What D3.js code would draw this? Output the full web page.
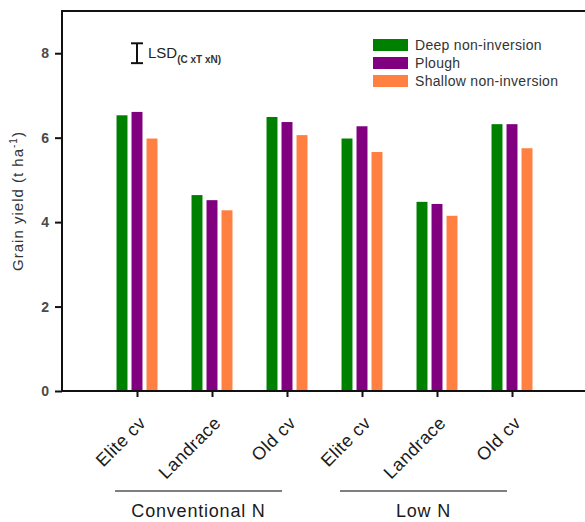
<!DOCTYPE html>
<html>
<head>
<meta charset="utf-8">
<script src="https://cdn.jsdelivr.net/npm/d3@7"></script>
<style>
  html, body { margin: 0; padding: 0; background: #fff; }
  svg { display: block; font-family: "Liberation Sans", Arial, sans-serif; }
</style>
</head>
<body>
<div id="chart"></div>
<script>
const categories = ["Elite cv", "Landrace", "Old cv", "Elite cv", "Landrace", "Old cv"];
const nGroups = ["Conventional N", "Low N"];
const series = ["Deep non-inversion", "Plough", "Shallow non-inversion"];
const deepNonInversion = [6.53, 4.64, 6.49, 5.98, 4.48, 6.32];
const plough = [6.61, 4.52, 6.37, 6.27, 4.43, 6.32];
const shallowNonInversion = [5.98, 4.28, 6.06, 5.66, 4.15, 5.75];
const yTicks = [0, 2, 4, 6, 8];
const lsdValue = 0.47;

const colors = ["#008000", "#800080", "#ff8040"];
const width = 585, height = 522;

const svg = d3.select("#chart").append("svg")
  .attr("width", width)
  .attr("height", height);

// x: category slots 1..6, axis at 0, right edge at 7
const x = d3.scaleLinear().domain([0, 7]).range([62, 587]);
const y = d3.scaleLinear().domain([0, 9]).range([391, 11]);
const inner = d3.scaleBand().domain(series).range([-22.5, 22.5])
  .paddingInner(0.27).paddingOuter(0.135);

const table = categories.map((c, i) => ({
  category: c,
  index: i,
  values: [deepNonInversion[i], plough[i], shallowNonInversion[i]]
}));

// bars
const groups = svg.append("g")
  .selectAll("g")
  .data(table)
  .join("g")
  .attr("transform", (d) => `translate(${x(d.index + 1)},0)`);

groups.selectAll("rect")
  .data((d) => d.values.map((v, k) => ({ key: series[k], value: v, k })))
  .join("rect")
  .attr("x", (d) => inner(d.key))
  .attr("width", inner.bandwidth())
  .attr("y", (d) => y(d.value))
  .attr("height", (d) => y(0) - y(d.value))
  .attr("fill", (d) => colors[d.k]);

// frame: top line
svg.append("line")
  .attr("x1", x(0) - 1).attr("x2", width)
  .attr("y1", y(9)).attr("y2", y(9))
  .attr("stroke", "#111").attr("stroke-width", 2);

// y axis
const yAxis = svg.append("g")
  .attr("transform", `translate(${x(0)},0)`)
  .call(d3.axisLeft(y).tickValues(yTicks).tickSize(7).tickPadding(6).tickFormat(d3.format("d")));
yAxis.select(".domain").attr("stroke", "#111").attr("stroke-width", 2)
  .attr("d", `M0,${y(0)}V${y(9)}`);
yAxis.selectAll(".tick line").attr("stroke", "#111").attr("stroke-width", 2);
yAxis.selectAll(".tick text")
  .attr("font-size", 14)
  .attr("font-weight", 700)
  .attr("fill", "#4a4a4a")
  .attr("font-family", "'Liberation Sans', Arial, sans-serif");

// x axis
const xAxis = svg.append("g")
  .attr("transform", `translate(0,${y(0)})`)
  .call(d3.axisBottom(x).tickValues(d3.range(1, 7)).tickSize(6).tickFormat(""));
xAxis.select(".domain").attr("stroke", "#111").attr("stroke-width", 2)
  .attr("d", `M${x(0) - 1},0H${width}`);
xAxis.selectAll(".tick line").attr("stroke", "#111").attr("stroke-width", 2);

// rotated category labels
svg.append("g")
  .selectAll("text")
  .data(table)
  .join("text")
  .attr("transform", (d) => `translate(${x(d.index + 1) + 10},${y(0) + 33}) rotate(-45)`)
  .attr("text-anchor", "end")
  .attr("font-size", 18)
  .attr("letter-spacing", 0.5)
  .attr("fill", "#1a1a1a")
  .text((d) => d.category);

// group lines + labels
const groupInfo = nGroups.map((g, gi) => {
  const first = gi * 3 + 1, last = gi * 3 + 3;
  return { name: g, x1: x(first) - 22, x2: x(last) - 5 };
});
const grp = svg.append("g").selectAll("g").data(groupInfo).join("g");
grp.append("line")
  .attr("x1", (d) => d.x1).attr("x2", (d) => d.x2)
  .attr("y1", 491).attr("y2", 491)
  .attr("stroke", "#555").attr("stroke-width", 1.5);
grp.append("text")
  .attr("x", (d) => (d.x1 + d.x2) / 2)
  .attr("y", 517)
  .attr("text-anchor", "middle")
  .attr("font-size", 18)
  .attr("letter-spacing", 0.8)
  .attr("fill", "#1a1a1a")
  .text((d) => d.name);

// y label
const yl = svg.append("text")
  .attr("transform", `translate(23,${201}) rotate(-90)`)
  .attr("text-anchor", "middle")
  .attr("font-size", 15)
  .attr("letter-spacing", 1)
  .attr("fill", "#333");
yl.append("tspan").text("Grain yield (t ha");
yl.append("tspan").attr("font-size", 10).attr("dy", -6).text("-1");
yl.append("tspan").attr("dy", 6).text(")");

// LSD bar
const lsdX = x(1);
const lsdG = svg.append("g").attr("stroke", "#111").attr("stroke-width", 2);
lsdG.append("line").attr("x1", lsdX).attr("x2", lsdX)
  .attr("y1", y(8 + lsdValue / 2)).attr("y2", y(8 - lsdValue / 2));
[8 + lsdValue / 2, 8 - lsdValue / 2].forEach((v) => {
  lsdG.append("line").attr("x1", lsdX - 6).attr("x2", lsdX + 6)
    .attr("y1", y(v)).attr("y2", y(v));
});
const lsdText = svg.append("text")
  .attr("x", lsdX + 11)
  .attr("y", 58)
  .attr("font-size", 15)
  .attr("fill", "#222");
lsdText.append("tspan").text("LSD");
lsdText.append("tspan").attr("font-size", 10).attr("font-weight", 700).attr("dy", 5)
  .attr("fill", "#333").text("(C xT xN)");

// legend
const legend = svg.append("g")
  .selectAll("g")
  .data(series)
  .join("g")
  .attr("transform", (d, i) => `translate(373,${39 + i * 18})`);
legend.append("rect")
  .attr("width", 35).attr("height", 12)
  .attr("fill", (d, i) => colors[i]);
legend.append("text")
  .attr("x", 42).attr("y", 11)
  .attr("font-size", 14)
  .attr("letter-spacing", 0.3)
  .attr("fill", "#333")
  .text((d) => d);
</script>
</body>
</html>
